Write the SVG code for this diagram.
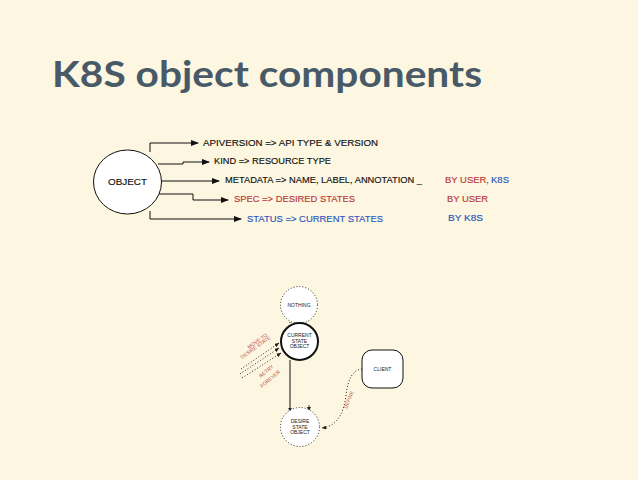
<svg xmlns="http://www.w3.org/2000/svg" width="638" height="480" viewBox="0 0 638 480">
<style>
.t{font-family:"Liberation Sans",Arial,sans-serif;font-size:9.5px;fill:#111;stroke:#111;stroke-width:0.15}
.r{fill:#b8383a;stroke:#b8383a}
.b{fill:#2a56c0;stroke:#2a56c0}
.s{font-family:"Liberation Sans",Arial,sans-serif;font-size:5px;fill:#222}
.sr{font-family:"Liberation Sans",Arial,sans-serif;font-size:5px;fill:#c0504d}
.ln{fill:none;stroke:#111;stroke-width:1}
.dot{fill:none;stroke:#222;stroke-width:1;stroke-dasharray:1 2}
</style>
<defs>
<marker id="ah" markerWidth="8" markerHeight="6" refX="7" refY="3" orient="auto" markerUnits="userSpaceOnUse">
<path d="M0,0 L8,3 L0,6 Z" fill="#111"/>
</marker>
<marker id="ahs" markerWidth="5" markerHeight="4" refX="4.5" refY="2" orient="auto" markerUnits="userSpaceOnUse">
<path d="M0,0 L5,2 L0,4 Z" fill="#222"/>
</marker>
</defs>
<rect width="638" height="480" fill="#fdf6e0"/>
<text x="52" y="87" font-family="Lato,'Liberation Sans',sans-serif" font-weight="bold" font-size="36" fill="#485a68" textLength="430" lengthAdjust="spacingAndGlyphs">K8S object components</text>

<g id="connectors">
<path class="ln" d="M150,152 V143 H198" marker-end="url(#ah)"/>
<path class="ln" d="M158,164 H183 V162 H209" marker-end="url(#ah)"/>
<path class="ln" d="M161,181 H219" marker-end="url(#ah)"/>
<path class="ln" d="M157,194 H193 V200 H228" marker-end="url(#ah)"/>
<path class="ln" d="M150,211 V219 H241" marker-end="url(#ah)"/>
<path fill="none" stroke="#111" stroke-width="1" d="M290,322 V323"/>
<path fill="none" stroke="#111" stroke-width="1" d="M290,360 V412" marker-end="url(#ahs)"/>
<path class="dot" d="M362,369 C352,370 348,380 346,395 C344,412 338,426 322,428" marker-end="url(#ahs)"/>
<path class="dot" d="M241,369 L279,343" marker-end="url(#ahs)"/>
<path class="dot" d="M240,374 L279,348" marker-end="url(#ahs)"/>
<path class="dot" d="M242,378 L281,353" marker-end="url(#ahs)"/>
<path d="M307,407 L311,407 L309,411 Z" fill="#222"/>
<path fill="none" stroke="#222" stroke-width="0.8" d="M309,407 V405"/>
</g>

<g id="object">
<ellipse cx="127.5" cy="182" rx="34" ry="32" fill="#fff" stroke="#111" stroke-width="1"/>
<text class="t" x="108" y="185" textLength="39" lengthAdjust="spacingAndGlyphs">OBJECT</text>
</g>

<g id="apiversion"><text class="t" x="203" y="146" textLength="175" lengthAdjust="spacingAndGlyphs">APIVERSION =&gt; API TYPE &amp; VERSION</text></g>
<g id="kind"><text class="t" x="214" y="164" textLength="117" lengthAdjust="spacingAndGlyphs">KIND =&gt; RESOURCE TYPE</text></g>
<g id="metadata"><text class="t" x="225" y="183" textLength="197" lengthAdjust="spacingAndGlyphs">METADATA =&gt; NAME, LABEL, ANNOTATION _</text></g>
<g id="spec"><text class="t r" x="234" y="202" textLength="121" lengthAdjust="spacingAndGlyphs">SPEC =&gt; DESIRED STATES</text></g>
<g id="status"><text class="t b" x="247" y="222" textLength="136" lengthAdjust="spacingAndGlyphs">STATUS =&gt; CURRENT STATES</text></g>
<g id="byuser-k8s"><text class="t" x="445" y="183"><tspan class="r" textLength="44" lengthAdjust="spacingAndGlyphs">BY USER,</tspan><tspan class="b" x="491" textLength="18" lengthAdjust="spacingAndGlyphs">K8S</tspan></text></g>
<g id="byuser"><text class="t r" x="447" y="202" textLength="41" lengthAdjust="spacingAndGlyphs">BY USER</text></g>
<g id="byk8s"><text class="t b" x="448" y="221" textLength="35" lengthAdjust="spacingAndGlyphs">BY K8S</text></g>

<g id="nothing">
<circle cx="299" cy="305" r="18.5" fill="#fff" stroke="#222" stroke-width="1" stroke-dasharray="1 2"/>
<text class="s" x="299" y="306.5" text-anchor="middle">NOTHING</text>
</g>
<g id="current">
<circle cx="299.5" cy="341.5" r="18.5" fill="#fff" stroke="#111" stroke-width="2"/>
<text class="s" x="299.5" y="337" text-anchor="middle">CURRENT</text>
<text class="s" x="299.5" y="342.5" text-anchor="middle">STATE</text>
<text class="s" x="299.5" y="348" text-anchor="middle">OBJECT</text>
</g>
<g id="desire">
<circle cx="300" cy="427" r="19.5" fill="#fff" stroke="#222" stroke-width="1" stroke-dasharray="1 2"/>
<text class="s" x="300" y="423" text-anchor="middle">DESIRE</text>
<text class="s" x="300" y="428.5" text-anchor="middle">STATE</text>
<text class="s" x="300" y="434" text-anchor="middle">OBJECT</text>
</g>
<g id="client">
<rect x="362" y="350" width="41" height="38" rx="10" ry="10" fill="#fff" stroke="#111" stroke-width="1"/>
<text class="s" x="382.5" y="370.5" text-anchor="middle">CLIENT</text>
</g>
<g id="labels">
<text class="sr" transform="translate(249,349) rotate(-35)">MOVE TO</text>
<text class="sr" transform="translate(242,359) rotate(-35)">DESIRE STATE</text>
<text class="sr" transform="translate(261,378) rotate(-40)">RETRY</text>
<text class="sr" transform="translate(262,388) rotate(-40)">FOREVER</text>
<text class="sr" transform="translate(347,409) rotate(-68)">DEFINE</text>
</g>
</svg>
